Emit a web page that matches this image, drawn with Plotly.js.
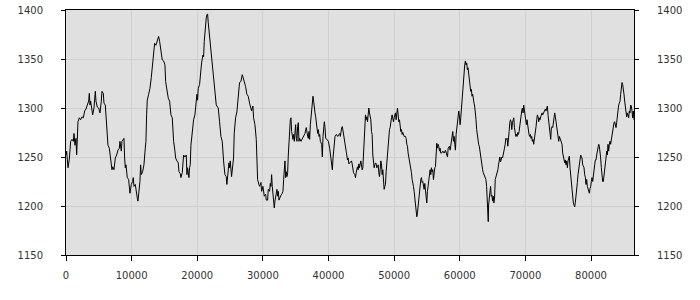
<!DOCTYPE html>
<html>
<head>
<meta charset="utf-8">
<script src="https://cdn.plot.ly/plotly-3.0.1.min.js"></script>
<style>html,body{margin:0;padding:0;background:#fff;}#chart{width:700px;height:300px;}</style>
</head>
<body>
<div id="chart"></div>
<script>
const xValues = [0,100,305,508,711,914,1117,1218,1370,1523,1624,1827,2030,2233,2436,2640,2843,3046,3249,3452,3553,3655,3756,3959,4061,4264,4467,4568,4670,4771,4974,5178,5381,5482,5685,5787,5990,6193,6294,6396,6599,6802,7005,7106,7309,7513,7716,7919,8122,8223,8426,8528,8731,8832,8934,9035,9137,9238,9340,9543,9644,9746,9949,10152,10254,10355,10558,10660,10863,10964,11167,11269,11370,11472,11675,11878,12081,12182,12284,12385,12588,12792,12995,13198,13299,13401,13502,13705,13908,14111,
14265,14468,14671,14874,15077,15178,15381,15584,15787,15990,16193,16295,16396,16600,16701,16904,17107,17209,17412,17513,17716,17919,18122,18325,18427,18528,18731,18833,18934,19036,19239,19442,19645,19848,19950,20051,20153,20356,20457,20660,20863,20965,21066,21168,21371,21472,21574,21676,21777,21980,22082,22285,22488,22691,22894,23097,23198,23401,23604,23807,23909,24010,24214,24417,24518,24721,24823,24924,25026,25229,25330,25533,25635,25838,26041,26244,26447,26650,26853,26955,27158,27361,27564,27767,27970,28173,
28280,28382,28483,28585,28789,28992,29094,29195,29399,29500,29704,29806,30009,30111,30212,30416,30517,30721,30823,31026,31128,31229,31331,31433,31534,31636,31738,31840,31941,32145,32246,32348,32450,32653,32755,32958,33060,33162,33263,33365,33467,33568,33670,33772,33873,33975,34077,34179,34280,34382,34585,34687,34789,34891,34992,35094,35196,35297,35399,35501,35602,35806,36009,36213,36416,36518,36620,36823,36925,37026,37128,37230,37331,37433,37535,37636,37738,37840,37942,38043,38247,38348,38450,38552,38653,38755,38959,39060,39162,39264,39365,39467,39569,39772,39976,40179,40382,40484,40586,40687,40789,40891,40993,41196,41400,41603,41704,41806,41908,42009,42111,42213,42315,42518,
42590,42692,42895,42996,43098,43301,43504,43605,43707,43808,44011,44113,44214,44417,44519,44620,44722,44823,44925,45026,45128,45230,45331,45433,45534,45636,45737,45839,45940,46042,46143,46245,46346,46448,46549,46651,46752,46854,46955,47057,47158,47260,47361,47463,47564,47666,47768,47869,47971,48072,48174,48275,48377,48478,48580,48681,48783,48884,48986,49087,49189,49290,49392,49493,49595,49696,49798,49899,50001,50102,50204,50306,50407,50509,50610,50712,50813,50915,51016,51118,51219,51321,51524,51727,51828,51930,52031,52133,52336,52539,52640,52742,52844,52945,53047,53148,53250,53351,53453,53554,53656,53757,53859,53960,54062,54163,54265,54366,54468,54569,54671,54772,54874,54975,55077,55178,55280,55382,55483,55585,55686,55788,55889,55991,56092,56194,56295,56397,56498,56600,56701,56803,56904,57006,57107,
57222,57424,57626,57828,58030,58131,58232,58434,58535,58737,58838,58939,59040,59141,59242,59343,59444,59545,59646,59747,59848,59949,60050,60151,60252,60353,60454,60555,60656,60757,60858,60959,61060,61161,61262,61363,61464,61565,61666,61767,61868,61969,62070,62171,62272,62373,62474,62575,62676,62777,62878,62979,63080,63181,63282,63383,63484,63585,63686,63787,63888,63989,64090,64191,64292,64343,64393,64494,64595,64696,64797,64898,64999,65100,65201,65302,65403,65504,65605,65706,65807,65908,66009,66110,66211,66312,66413,66514,66615,66716,66817,66918,67019,67120,67221,67322,67423,67524,67625,67726,67827,67928,68029,68130,68231,68332,68433,68534,68635,68736,68837,68938,69039,69140,69241,69342,69443,69544,69645,69746,69847,69948,70049,70150,70251,70352,70453,70554,70655,70756,70857,70958,71059,71160,71261,71362,71463,
71524,71625,71727,71828,71930,72031,72133,72234,72336,72437,72539,72640,72843,72945,73046,73148,73249,73351,73452,73554,73655,73757,73858,73960,74062,74163,74265,74366,74468,74569,74671,74772,74874,74975,75077,75178,75280,75381,75483,75584,75686,75787,75889,75990,76092,76193,76295,76396,76498,76599,76701,76802,76904,77005,77107,77208,77310,77411,77513,77615,77716,77818,77919,78021,78122,78224,78325,78427,78528,78630,78731,78833,78934,79036,79137,79239,79340,79442,79544,79645,79747,79848,79950,80051,80153,80254,80356,80457,80559,80660,80762,80863,80965,81066,81168,81269,81371,81472,81574,81675,81777,81878,81980,82081,82183,82284,82386,82487,82589,82690,82792,82894,82995,83097,83198,83300,83401,83503,83604,83706,83807,83909,84010,84112,84214,84315,84417,84518,84620,84721,84823,84924,85026,85127,85229,85330,85432,85533,85635,85736,85838,85939,86041,86142,86244,86345,86447,86548];

const yValues = [1252,1256,1239,1248,1266,1268,1266,1274,1262,1269,1252,1286,1290,1288,1291,1290,1297,1299,1303,1307,1315,1303,1307,1297,1293,1300,1317,1307,1303,1301,1300,1295,1307,1317,1315,1305,1303,1286,1276,1262,1259,1249,1237,1240,1237,1249,1252,1257,1259,1266,1256,1266,1268,1269,1249,1239,1242,1235,1229,1227,1215,1213,1222,1225,1229,1220,1222,1215,1208,1205,1215,1225,1242,1232,1235,1242,1259,1266,1293,1308,1314,1320,1331,1344,1354,1361,1366,1364,1368,1373,
1368,1360,1349,1348,1344,1327,1317,1310,1307,1293,1290,1273,1266,1256,1249,1246,1244,1235,1233,1229,1234,1252,1250,1252,1232,1239,1229,1239,1242,1262,1278,1288,1293,1307,1314,1308,1320,1324,1334,1346,1354,1352,1368,1378,1392,1395,1396,1387,1380,1368,1358,1342,1329,1317,1303,1301,1300,1286,1271,1266,1249,1246,1232,1230,1222,1239,1244,1239,1246,1230,1237,1249,1274,1290,1296,1314,1326,1327,1334,1332,1327,1322,1314,1312,1305,1298,
1297,1300,1302,1290,1283,1268,1239,1227,1222,1220,1224,1215,1220,1213,1210,1212,1206,1206,1217,1215,1223,1220,1232,1220,1213,1210,1198,1205,1211,1217,1210,1215,1206,1210,1211,1213,1215,1227,1242,1246,1229,1235,1230,1234,1252,1269,1280,1288,1290,1276,1268,1273,1266,1276,1283,1269,1266,1281,1285,1266,1269,1266,1269,1271,1274,1278,1280,1271,1269,1276,1268,1283,1290,1300,1308,1312,1307,1297,1295,1291,1280,1274,1278,1271,1273,1266,1263,1250,1271,1283,1286,1280,1269,1268,1266,1259,1250,1245,1237,1249,1259,1266,1271,1273,1271,1273,1274,1271,1278,1280,1281,1276,1269,1263,
1259,1256,1247,1249,1243,1245,1246,1243,1239,1234,1232,1229,1234,1240,1237,1243,1239,1243,1246,1242,1237,1239,1256,1273,1288,1293,1288,1291,1286,1297,1300,1295,1290,1288,1276,1273,1252,1242,1239,1242,1244,1243,1239,1240,1242,1234,1230,1237,1246,1243,1232,1237,1222,1217,1220,1222,1235,1246,1250,1264,1271,1278,1280,1288,1290,1293,1288,1286,1290,1293,1295,1288,1297,1300,1293,1286,1288,1278,1276,1278,1273,1275,1271,1271,1269,1263,1261,1254,1247,1240,1234,1227,1220,1220,1215,1208,1203,1196,1189,1193,1201,1203,1210,1220,1227,1229,1224,1225,1222,1217,1223,1213,1210,1203,1215,1220,1229,1232,1237,1232,1239,1235,1237,1227,1235,1239,1240,1250,1264,1259,1263,1261,1256,1259,1254,
1254,1256,1254,1257,1252,1250,1259,1261,1257,1269,1274,1276,1266,1271,1263,1257,1273,1280,1285,1288,1297,1292,1283,1290,1300,1308,1314,1324,1334,1344,1348,1344,1346,1339,1341,1334,1327,1320,1317,1319,1312,1314,1307,1305,1302,1297,1288,1278,1271,1266,1263,1261,1256,1247,1246,1239,1237,1234,1232,1230,1229,1227,1220,1208,1194,1184,1201,1211,1215,1220,1210,1211,1205,1210,1203,1208,1227,1229,1232,1235,1237,1242,1249,1250,1245,1249,1250,1249,1254,1256,1259,1263,1269,1268,1269,1261,1266,1276,1285,1288,1286,1278,1285,1288,1290,1280,1273,1271,1273,1271,1275,1273,1276,1283,1288,1293,1297,1300,1295,1303,1297,1291,1286,1283,1288,1280,1276,1273,1271,1273,1269,1271,1266,1268,1263,1268,1269,
1276,1281,1288,1293,1291,1286,1290,1288,1291,1293,1295,1293,1297,1297,1299,1297,1300,1302,1293,1288,1283,1278,1268,1280,1281,1280,1286,1293,1295,1291,1285,1280,1274,1271,1266,1271,1269,1268,1266,1263,1254,1250,1246,1244,1247,1242,1246,1239,1246,1249,1251,1239,1232,1222,1211,1206,1203,1201,1199,1204,1209,1217,1224,1232,1237,1242,1249,1252,1250,1249,1242,1239,1239,1232,1229,1222,1227,1220,1218,1217,1213,1218,1220,1225,1229,1225,1234,1239,1242,1247,1247,1252,1256,1258,1263,1261,1256,1249,1239,1229,1225,1225,1230,1235,1242,1249,1256,1252,1263,1256,1263,1266,1263,1268,1273,1280,1285,1285,1286,1283,1280,1285,1293,1300,1303,1305,1307,1314,1324,1326,1324,1320,1314,1307,1303,1297,1291,1295,1293,1290,1297,1295,1303,1302,1297,1290,1297,1288];

const xTicks = [0,10000,20000,30000,40000,50000,60000,70000,80000];
const yTicks = [1150,1200,1250,1300,1350,1400];
const xRange = [0, 86550];
const yRange = [1150, 1400];

const lineTrace = {
  x: xValues, y: yValues, type: 'scatter', mode: 'lines',
  line: {color: '#000000', width: 1}, hoverinfo: 'skip', showlegend: false
};
const mirrorTrace = Object.assign({}, lineTrace, {yaxis: 'y2', opacity: 0});

const tickFont = {family: 'DejaVu Sans, Verdana, sans-serif', size: 10, color: '#333333'};
const gridColor = '#cfcfcf';

const layout = {
  width: 700, height: 300,
  margin: {l: 66, r: 66, t: 10, b: 45, pad: 0},
  paper_bgcolor: '#ffffff', plot_bgcolor: '#e0e0e0',
  showlegend: false,
  xaxis: {
    range: xRange, tickvals: xTicks, ticktext: xTicks.map(String),
    showgrid: true, gridcolor: gridColor, gridwidth: 1, zeroline: false,
    showline: true, linecolor: '#000000', linewidth: 1, mirror: true,
    ticks: 'outside', ticklen: 5, tickcolor: '#000000', tickwidth: 1,
    tickfont: tickFont, ticklabelstandoff: 6
  },
  yaxis: {
    range: yRange, tickvals: yTicks, ticktext: yTicks.map(String),
    showgrid: true, gridcolor: gridColor, gridwidth: 1, zeroline: false,
    showline: true, linecolor: '#000000', linewidth: 1,
    ticks: 'outside', ticklen: 4, tickcolor: '#000000', tickwidth: 1,
    tickfont: tickFont, ticklabelstandoff: 16
  },
  yaxis2: {
    range: yRange, tickvals: yTicks, ticktext: yTicks.map(String),
    overlaying: 'y', side: 'right', showgrid: false, zeroline: false,
    showline: true, linecolor: '#000000', linewidth: 1,
    ticks: 'outside', ticklen: 4, tickcolor: '#000000', tickwidth: 1,
    tickfont: tickFont, ticklabelstandoff: 16
  }
};

Plotly.newPlot('chart', [lineTrace, mirrorTrace], layout, {displayModeBar: false, staticPlot: true});
</script>
</body>
</html>
